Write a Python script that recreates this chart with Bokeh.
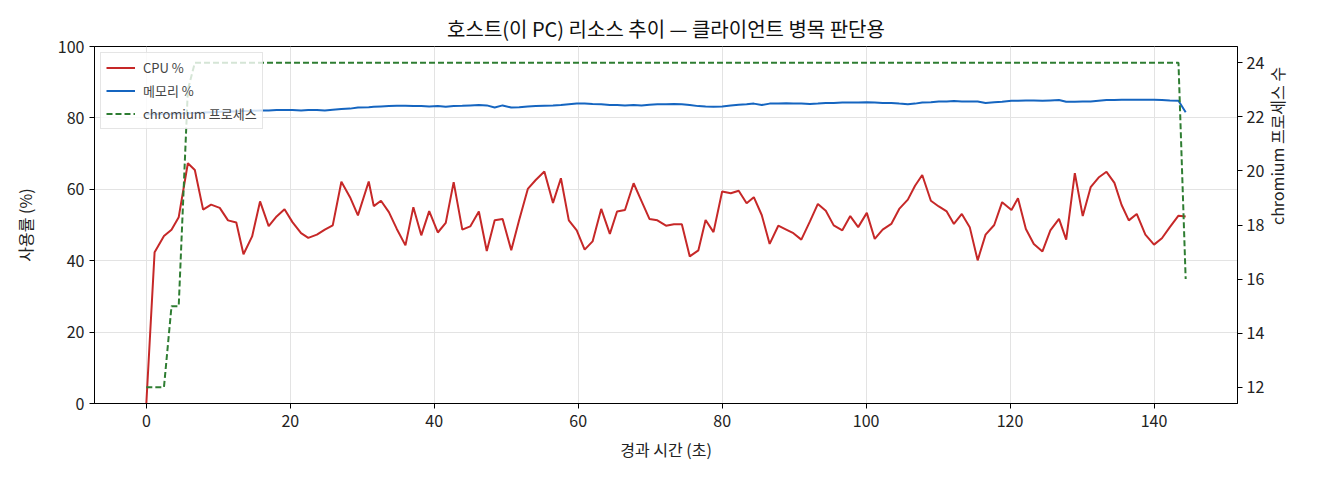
import math
from bokeh.plotting import figure
from bokeh.models import Range1d, LinearAxis, Legend, LegendItem, FixedTicker
from bokeh.embed import file_html
from bokeh.resources import INLINE

# 1. Data
elapsed = [0.0, 1.15, 2.45, 3.5, 4.5, 5.77, 6.74, 7.89, 9.0, 10.2, 11.35, 12.5, 13.5, 14.7, 15.8,
           17.0, 18.1, 19.2, 20.3, 21.5, 22.5, 23.7, 24.8, 25.9, 27.1, 28.3, 29.4, 30.9, 31.6, 32.6,
           33.7, 34.8, 36.0, 37.1, 38.2, 39.3, 40.5, 41.6, 42.7, 43.9, 45.0, 46.2, 47.3, 48.4, 49.5,
           50.7, 51.8, 53.0, 54.1, 55.3, 56.5, 57.6, 58.7, 59.8, 60.9, 62.0, 63.2, 64.4, 65.4, 66.5,
           67.7, 68.8, 69.9, 71.0, 72.2, 73.3, 74.4, 75.5, 76.7, 77.7, 78.8, 80.0, 81.2, 82.3, 83.4,
           84.4, 85.5, 86.6, 87.8, 88.9, 89.9, 91.0, 92.2, 93.3, 94.4, 95.5, 96.7, 97.8, 98.9, 100.1,
           101.2, 102.3, 103.5, 104.6, 105.8, 106.8, 107.8, 109.0, 110.1, 111.2, 112.2, 113.3, 114.4,
           115.5, 116.6, 117.8, 118.9, 120.2, 121.1, 122.2, 123.3, 124.5, 125.6, 126.8, 127.8, 129.0,
           130.1, 131.2, 132.3, 133.4, 134.5, 135.5, 136.5, 137.6, 138.8, 140.0, 141.1, 142.2, 143.4,
           144.4]

cpu_pct = [0.0, 42.4, 46.9, 48.7, 52.2, 67.3, 65.4, 54.3, 55.7, 54.8, 51.3, 50.7, 41.8, 46.8, 56.6,
           49.7, 52.4, 54.4, 50.8, 47.7, 46.4, 47.3, 48.7, 49.9, 62.1, 57.8, 52.7, 62.2, 55.3, 56.8,
           53.6, 48.9, 44.3, 55.0, 47.1, 53.9, 47.9, 50.6, 62.0, 48.7, 49.6, 53.8, 42.7, 51.3, 51.7,
           42.9, 51.4, 60.1, 62.6, 65.0, 56.2, 63.1, 51.3, 48.5, 43.1, 45.4, 54.5, 47.5, 53.8, 54.2,
           61.7, 56.7, 51.7, 51.3, 49.8, 50.2, 50.2, 41.2, 42.9, 51.4, 48.0, 59.4, 58.9, 59.6, 56.1,
           57.8, 52.8, 44.7, 49.8, 48.7, 47.7, 45.9, 51.0, 55.9, 54.0, 49.9, 48.5, 52.5, 49.4, 53.4,
           46.1, 48.7, 50.3, 54.5, 57.1, 61.0, 64.0, 56.8, 55.2, 53.8, 50.3, 53.1, 49.4, 40.1, 47.3,
           50.0, 56.4, 54.2, 57.5, 48.9, 44.7, 42.6, 48.5, 51.7, 45.9, 64.5, 52.5, 60.6, 63.3, 64.9,
           61.8, 55.6, 51.3, 53.1, 47.3, 44.5, 46.3, 49.4, 52.6, 52.4]

mem_pct = [81.0, 81.0, 81.1, 81.1, 81.2, 81.3, 81.4, 81.5, 81.6, 81.7, 81.8, 81.8, 81.9, 82.0, 82.1,
           82.1, 82.2, 82.2, 82.2, 82.1, 82.2, 82.2, 82.1, 82.3, 82.5, 82.6, 82.9, 83.0, 83.1, 83.2,
           83.3, 83.4, 83.4, 83.3, 83.3, 83.2, 83.3, 83.1, 83.3, 83.4, 83.5, 83.6, 83.5, 82.9, 83.5,
           82.9, 83.0, 83.2, 83.3, 83.4, 83.5, 83.6, 83.8, 84.0, 84.0, 83.9, 83.8, 83.6, 83.6, 83.5,
           83.6, 83.5, 83.7, 83.8, 83.8, 83.9, 83.8, 83.6, 83.3, 83.2, 83.1, 83.2, 83.5, 83.7, 83.8,
           84.0, 83.6, 84.0, 84.0, 84.1, 84.0, 84.0, 83.9, 84.0, 84.2, 84.2, 84.3, 84.3, 84.3, 84.4,
           84.3, 84.2, 84.2, 84.0, 83.8, 84.0, 84.3, 84.4, 84.6, 84.6, 84.7, 84.6, 84.6, 84.6, 84.2,
           84.4, 84.5, 84.8, 84.8, 84.9, 84.9, 84.8, 84.9, 85.0, 84.5, 84.5, 84.6, 84.6, 84.8, 85.0,
           85.0, 85.1, 85.1, 85.1, 85.1, 85.1, 85.0, 84.9, 84.8, 81.6]

chromium_procs = [12, 12, 12, 15, 15, 23] + [24] * 123 + [16]

pct_ticks = [0, 20, 40, 60, 80, 100]
proc_ticks = [12, 14, 16, 18, 20, 22, 24]
time_ticks = [0, 20, 40, 60, 80, 100, 120, 140]

FONT = "Noto Sans CJK KR"
CPU_COLOR = "#c62828"
MEM_COLOR = "#1565c0"
PROC_COLOR = "#2e7d32"

# 2. Figure
p = figure(
    width=1304, height=464,
    x_range=Range1d(-7.2, 151.6), y_range=Range1d(0, 100),
    title="호스트(이 PC) 리소스 추이 — 클라이언트 병목 판단용",
    toolbar_location=None, output_backend="svg",
    min_border_left=94, min_border_right=65, min_border_top=46, min_border_bottom=61,
)
p.extra_y_ranges = {"procs": Range1d(11.4, 24.6)}

p.title.align = "center"
p.title.text_font = FONT
p.title.text_font_size = "20px"
p.title.text_font_style = "normal"
p.title.text_color = "#111111"
p.title.standoff = 8

# 3. Lines
cpu_line = p.line(elapsed, cpu_pct, line_color=CPU_COLOR, line_width=2)
mem_line = p.line(elapsed, mem_pct, line_color=MEM_COLOR, line_width=2)
proc_line = p.line(elapsed, chromium_procs, line_color=PROC_COLOR, line_width=2,
                   line_dash="6 3", y_range_name="procs")

# 4. Axes
right_axis = LinearAxis(y_range_name="procs", axis_label="chromium 프로세스 수")
p.add_layout(right_axis, "right")

p.xaxis.axis_label = "경과 시간 (초)"
p.yaxis[0].axis_label = "사용률 (%)"
p.xaxis.ticker = FixedTicker(ticks=time_ticks)
p.yaxis[0].ticker = FixedTicker(ticks=pct_ticks)
right_axis.ticker = FixedTicker(ticks=proc_ticks)

for ax in p.axis:
    ax.major_label_text_font = FONT
    ax.major_label_text_font_size = "16px"
    ax.major_label_text_color = "#222222"
    ax.axis_label_text_font = FONT
    ax.axis_label_text_font_size = "16px"
    ax.axis_label_text_font_style = "normal"
    ax.axis_label_text_color = "#222222"
    ax.axis_line_color = "black"
    ax.major_tick_line_color = "black"
    ax.major_tick_out = 5
    ax.major_tick_in = 0
    ax.minor_tick_line_color = None
    ax.major_label_standoff = 5
p.xaxis.major_label_standoff = 6
p.xaxis.axis_label_standoff = 7
p.yaxis[0].axis_label_standoff = 18
right_axis.major_label_standoff = 4
right_axis.axis_label_standoff = 10
# read bottom-to-top like the left axis label
right_axis.axis_label_orientation = math.pi / 2

p.xgrid.grid_line_color = "#e3e3e3"
p.ygrid.grid_line_color = "#e3e3e3"
p.outline_line_color = "black"
p.outline_line_width = 1

# 5. Legend
legend = Legend(items=[
    LegendItem(label="CPU %", renderers=[cpu_line]),
    LegendItem(label="메모리 %", renderers=[mem_line]),
    LegendItem(label="chromium 프로세스", renderers=[proc_line]),
], location="top_left")
legend.label_text_font = FONT
legend.label_text_font_size = "13px"
legend.label_height = 19
legend.glyph_height = 19
legend.glyph_width = 29
legend.label_standoff = 8
legend.spacing = 4
legend.padding = 5
legend.margin = 6
legend.border_line_color = "#cccccc"
legend.background_fill_alpha = 0.8
p.add_layout(legend)

open("out.html", "w").write(file_html(p, INLINE))
